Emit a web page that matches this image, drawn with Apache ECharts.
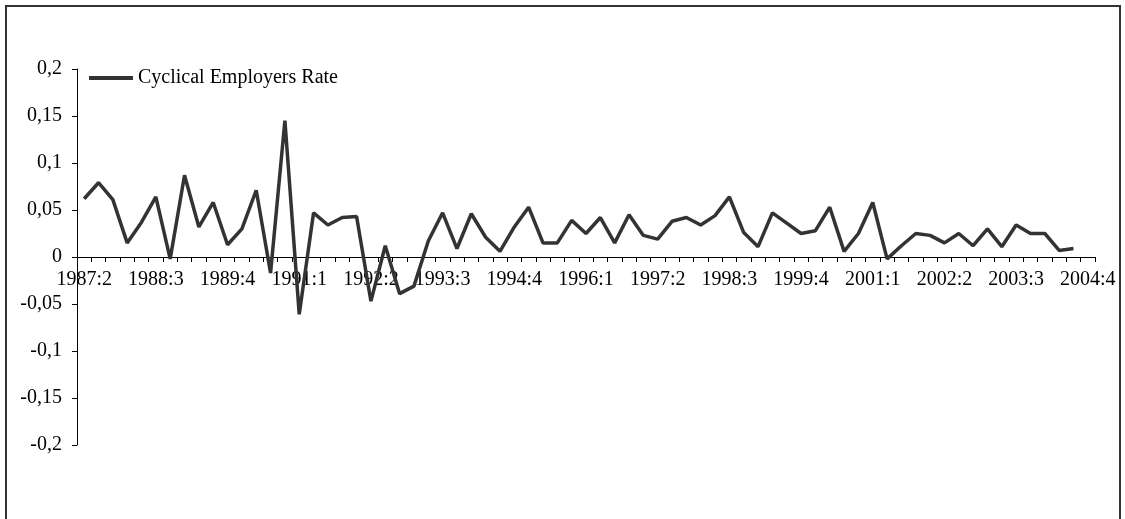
<!DOCTYPE html>
<html>
<head>
<meta charset="utf-8">
<script src="https://cdn.jsdelivr.net/npm/echarts@6/dist/echarts.min.js"></script>
<style>html,body{margin:0;padding:0;background:#fff;}#c{width:1125px;height:519px;}</style>
</head>
<body>
<div id="c"></div>
<script>
// Quarterly categories 1987:2 .. 2004:4
const categories = [];
for (let y = 1987; y <= 2004; y++) {
  for (let q = 1; q <= 4; q++) {
    if (y === 1987 && q < 2) continue;
    categories.push(y + ':' + q);
  }
}
const seriesName = 'Cyclical Employers Rate';
const rateValues = [
  0.062, 0.079, 0.061, 0.015, 0.037, 0.064, -0.002, 0.087, 0.032, 0.058,
  0.013, 0.030, 0.071, -0.017, 0.145, -0.061, 0.047, 0.034, 0.042, 0.043,
  -0.047, 0.012, -0.039, -0.031, 0.017, 0.047, 0.009, 0.046, 0.021, 0.006,
  0.032, 0.053, 0.015, 0.015, 0.039, 0.025, 0.042, 0.015, 0.045, 0.023,
  0.019, 0.038, 0.042, 0.034, 0.044, 0.064, 0.026, 0.011, 0.047, 0.036,
  0.025, 0.028, 0.053, 0.006, 0.025, 0.058, -0.002, 0.012, 0.025, 0.023,
  0.015, 0.025, 0.012, 0.030, 0.011, 0.034, 0.025, 0.025, 0.007, 0.009,
  null
];
const yTicks = { min: -0.2, max: 0.2, step: 0.05 };

const chart = echarts.init(document.getElementById('c'));
const font = '"Liberation Serif", "Times New Roman", serif';
const gridTop = 69, gridBottom = 74, H = 519;
const plotH = H - gridTop - gridBottom;
// offset so the category axis sits at value 0
const zeroOffset = -plotH * (0 - yTicks.min) / (yTicks.max - yTicks.min);
chart.setOption({
  animation: false,
  backgroundColor: '#fff',
  graphic: [{
    type: 'rect', shape: { x: 6, y: 6, width: 1114, height: 600 },
    style: { fill: 'none', stroke: '#333', lineWidth: 2 }, silent: true
  }],
  legend: {
    left: 89, top: 68, padding: 0,
    itemWidth: 44, itemHeight: 4, itemGap: 10,
    icon: 'rect',
    textStyle: { fontFamily: font, fontSize: 20, color: '#000' },
    data: [seriesName]
  },
  grid: { left: 77, right: 30, top: gridTop, bottom: gridBottom, containLabel: false },
  xAxis: {
    type: 'category',
    data: categories,
    boundaryGap: true,
    offset: zeroOffset,
    axisLine: { onZero: false, lineStyle: { color: '#000', width: 1 } },
    axisTick: { show: true, interval: 0, length: 5, inside: false, lineStyle: { color: '#000' } },
    axisLabel: { interval: 4, fontFamily: font, fontSize: 20, color: '#000', margin: 13, showMaxLabel: true },
    splitLine: { show: false }
  },
  yAxis: {
    type: 'value',
    min: yTicks.min, max: yTicks.max, interval: yTicks.step,
    axisLine: { show: true, lineStyle: { color: '#000', width: 1 } },
    axisTick: { show: true, length: 5, lineStyle: { color: '#000' } },
    axisLabel: {
      fontFamily: font, fontSize: 20, color: '#000', margin: 15,
      formatter: v => String(Math.round(v * 100) / 100).replace('.', ',')
    },
    splitLine: { show: false }
  },
  series: [{
    name: seriesName,
    type: 'line',
    data: rateValues,
    symbol: 'none',
    connectNulls: false,
    lineStyle: { color: '#333', width: 3.5 },
    itemStyle: { color: '#333' }
  }]
});
</script>
</body>
</html>
